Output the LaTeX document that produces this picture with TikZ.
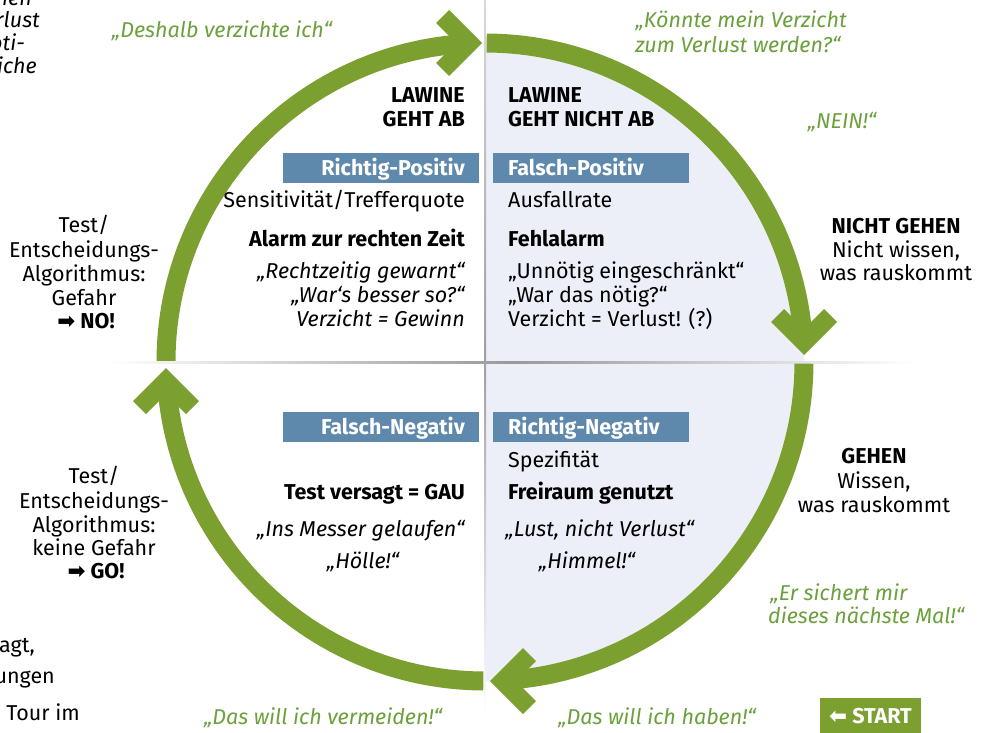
\documentclass[tikz,border=0pt]{standalone}
\usepackage{fontspec}
\setmainfont{Fira Sans}
\newfontfamily\symfont{DejaVu Sans}
\definecolor{arrowgreen}{HTML}{7BA030}
\definecolor{txtgreen}{HTML}{6CA03C}
\definecolor{boxblue}{HTML}{5E88AC}
\definecolor{lightfill}{HTML}{ECEFF7}
\newcommand{\fsz}{\fontsize{21.5}{24}\selectfont}
\begin{document}
\begin{tikzpicture}[x=1pt,y=-1pt,
  txt/.style={inner sep=0pt, font=\fsz},
  R/.style={txt, anchor=base east},
  L/.style={txt, anchor=base west},
  C/.style={txt, anchor=base},
  bf/.style={font=\fsz\bfseries},
  it/.style={font=\fsz\itshape},
  gr/.style={text=txtgreen, font=\fsz\itshape},
  bluebox/.style={fill=boxblue, minimum width=196, minimum height=30, inner sep=0pt},
  boxtext/.style={text=white, font=\fsz\bfseries},
  arrowline/.style={draw=arrowgreen, line width=19},
  chev/.style={fill=arrowgreen}]
\useasboundingbox (0,0) rectangle (990,732);
\clip (0,0) rectangle (990,732);
\coordinate (c) at (485,362);
% light fill of right half
\fill[lightfill] (485,43) arc[start angle=270,end angle=450,radius=319] -- cycle;
% axes
\shade[top color=gray!30, bottom color=white, middle color=gray!75] (484,0) rectangle (486,715);
\shade[left color=white, right color=white, middle color=gray!80] (110,361) rectangle (915,363);
% arcs
\draw[arrowline] (c) ++(180.2:319) arc[start angle=180.2,end angle=265.9,radius=319];
\draw[arrowline] (c) ++(270.3:319) arc[start angle=270.3,end angle=355.1,radius=319];
\draw[arrowline] (c) ++(0.3:319) arc[start angle=0.3,end angle=85.5,radius=319];
\draw[arrowline] (c) ++(90.3:319) arc[start angle=90.3,end angle=175.3,radius=319];
% chevrons
\fill[chev] (482,43) -- (449,76) -- (436,63) -- (456,43) -- (436,23) -- (449,10) -- cycle;
\fill[chev] (804,355) -- (771,322) -- (784,309) -- (804,329) -- (824,309) -- (837,322) -- cycle;
\fill[chev] (490,681) -- (523,648) -- (536,661) -- (516,681) -- (536,701) -- (523,714) -- cycle;
\fill[chev] (166,368) -- (199,401) -- (186,414) -- (166,394) -- (146,414) -- (133,401) -- cycle;
% blue boxes
\node[bluebox] (rpbox) at (381,168) {};
\node[bluebox] (fpbox) at (591,168) {};
\node[bluebox] (fnbox) at (381,427) {};
\node[bluebox] (rnbox) at (591,427) {};
\node[R,boxtext] (rp) at (465,175) {Richtig-Positiv};
\node[L,boxtext] (fp) at (508,175) {Falsch-Positiv};
\node[R,boxtext] (fn) at (465,434) {Falsch-Negativ};
\node[L,boxtext] (rn) at (508,434) {Richtig-Negativ};
% upper left quadrant
\node[R,bf] (la1) at (465,102) {LAWINE};
\node[R,bf] (la2) at (465,126) {GEHT AB};
\node[R] (sens) at (465,207) {Sensitivität/Trefferquote};
\node[R,bf] (alarm) at (465,246) {Alarm zur rechten Zeit};
\node[R,it] (q1) at (465,278) {„Rechtzeitig gewarnt“};
\node[R,it] (q2) at (465,302) {„War‘s besser so?“};
\node[R,it] (q3) at (465,326) {Verzicht = Gewinn};
% upper right quadrant
\node[L,bf] (lb1) at (508,102) {LAWINE};
\node[L,bf] (lb2) at (508,126) {GEHT NICHT AB};
\node[L] (ausf) at (508,207) {Ausfallrate};
\node[L,bf] (fehl) at (508,246) {Fehlalarm};
\node[L] (q4) at (508,278) {„Unnötig eingeschränkt“};
\node[L] (q5) at (508,302) {„War das nötig?“};
\node[L] (q6) at (508,326) {Verzicht = Verlust! (?)};
% lower left quadrant
\node[R,bf] (gau) at (465,499) {Test versagt = GAU};
\node[R,it] (q7) at (465,536) {„Ins Messer gelaufen“};
\node[C,it] (q8) at (363,568) {„Hölle!“};
% lower right quadrant
\node[L] (spez) at (508,467) {Spezifität};
\node[L,bf] (frei) at (508,499) {Freiraum genutzt};
\node[L,it] (q9) at (505,536) {„Lust, nicht Verlust“};
\node[C,it] (q10) at (587,568) {„Himmel!“};
% right side
\node[C,bf] (ng1) at (896,233) {NICHT GEHEN};
\node[C] (ng2) at (896,257) {Nicht wissen,};
\node[C] (ng3) at (896,280) {was rauskommt};
\node[C,bf] (g1) at (874,463) {GEHEN};
\node[C] (g2) at (874,488) {Wissen,};
\node[C] (g3) at (874,512) {was rauskommt};
% left side
\node[C] (t1) at (84,232) {Test/};
\node[C] (t2) at (84,257) {Entscheidungs-};
\node[C] (t3) at (84,281) {Algorithmus:};
\node[C] (t4) at (84,305) {Gefahr};
\node[C,bf] (t5) at (86,328) {{\symfont ➡} NO!};
\node[C] (u1) at (94,483) {Test/};
\node[C] (u2) at (94,508) {Entscheidungs-};
\node[C] (u3) at (94,532) {Algorithmus:};
\node[C] (u4) at (94,555) {keine Gefahr};
\node[C,bf] (u5) at (96,578) {{\symfont ➡} GO!};
% green quotes
\node[C,gr] (g_a) at (222,37) {„Deshalb verzichte ich“};
\node[C,gr] (g_b1) at (741,27) {„Könnte mein Verzicht};
\node[C,gr] (g_b2) at (738,52) {zum Verlust werden?“};
\node[C,gr] (g_c) at (842,128) {„NEIN!“};
\node[L,gr] (g_d1) at (770,600) {„Er sichert mir};
\node[L,gr] (g_d2) at (768,623) {dieses nächste Mal!“};
\node[C,gr] (g_e) at (323,724) {„Das will ich vermeiden!“};
\node[C,gr] (g_f) at (657,724) {„Das will ich haben!“};
% start box
\node[fill=arrowgreen, minimum width=101, minimum height=36, inner sep=0pt, text=white, font=\fsz\bfseries] (start) at (870.5,716) {{\symfont ⬅} START};
% cut-off fragments at the left edge
\node[R,it] (f1) at (32,5) {hen};
\node[R,it] (f2) at (40,27) {rlust};
\node[R,it] (f3) at (25,50) {oti-};
\node[R,it] (f4) at (37,73) {iche};
\node[R] (f5) at (35,652) {agt,};
\node[R] (f6) at (55,683) {ungen};
\node[R] (f7) at (80,720) {Tour im};
\end{tikzpicture}
\end{document}
